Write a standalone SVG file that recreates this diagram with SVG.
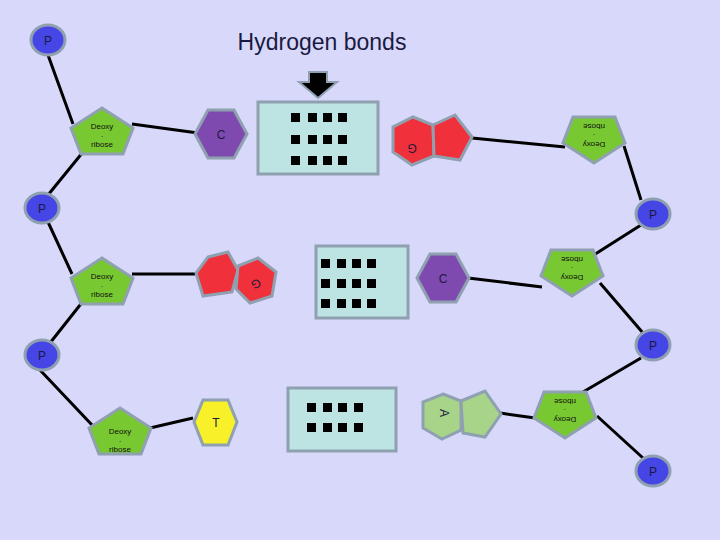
<svg xmlns="http://www.w3.org/2000/svg" width="720" height="540" viewBox="0 0 720 540">
<style>
.s{stroke:#8fa0b0;stroke-width:3}
.p{fill:#4646e6}
.d{fill:#78c832}
.ln{stroke:#000;stroke-width:3;fill:none}
.t{font-family:"Liberation Sans",Arial,sans-serif;fill:#1a1a40;text-anchor:middle}
.dt{font-family:"Liberation Sans",Arial,sans-serif;font-size:8px;fill:#111;text-anchor:middle}
.box{fill:#bde3e3}
.sq{fill:#000}
</style>
<defs>
<polygon id="pent" points="0,-24 31,-4 21,22 -21,22 -31,-4"/>
<polygon id="hex" points="-13,-24 13,-24 26,0 13,24 -13,24 -26,0"/>
</defs>
<rect width="720" height="540" fill="#d8d8fa"/>
<text class="t" x="322" y="50" font-size="23">Hydrogen bonds</text>
<g id="connectors">
<path class="ln" d="M48,55 L73,124 M83,152 L48,195 M48,222 L72,274 M84,300 L50,343 M40,370 L92,425"/>
<path class="ln" d="M624,146 L641,200 M641,225 L589,258 M600,283 L643,333 M641,358 L583,392 M597,416 L643,458"/>
<path class="ln" d="M132,124 L198,133 M472,138 L565,147 M132,274 L195,274 M468,278 L542,287 M150,428 L193,418 M500,413 L535,418"/>
</g>
<g id="arrow"><polygon points="309,72 327,72 327,82 337,82 318,98 299,82 309,82" fill="#000" stroke="#8fa0b0" stroke-width="2"/></g>
<g id="P1"><ellipse class="p s" cx="48" cy="40" rx="17" ry="15"/><text class="t" x="48" y="45" font-size="12">P</text></g>
<g id="P2"><ellipse class="p s" cx="42" cy="208" rx="17" ry="15"/><text class="t" x="42" y="213" font-size="12">P</text></g>
<g id="P3"><ellipse class="p s" cx="42" cy="355" rx="17" ry="15"/><text class="t" x="42" y="360" font-size="12">P</text></g>
<g id="P4"><ellipse class="p s" cx="653" cy="214" rx="17" ry="15"/><text class="t" x="653" y="219" font-size="12">P</text></g>
<g id="P5"><ellipse class="p s" cx="653" cy="345" rx="17" ry="15"/><text class="t" x="653" y="350" font-size="12">P</text></g>
<g id="P6"><ellipse class="p s" cx="653" cy="471" rx="17" ry="15"/><text class="t" x="653" y="476" font-size="12">P</text></g>
<g id="D1"><use href="#pent" class="d s" x="102" y="132"/><text class="dt" x="102" y="129">Deoxy</text><text class="dt" x="102" y="137">.</text><text class="dt" x="102" y="147">ribose</text></g>
<g id="D2"><use href="#pent" class="d s" x="102" y="282"/><text class="dt" x="102" y="279">Deoxy</text><text class="dt" x="102" y="287">.</text><text class="dt" x="102" y="297">ribose</text></g>
<g id="D3"><use href="#pent" class="d s" x="120" y="432"/><text class="dt" x="120" y="434">Deoxy</text><text class="dt" x="120" y="442">.</text><text class="dt" x="120" y="452">ribose</text></g>
<g id="D4" transform="translate(594,139) rotate(180)"><use href="#pent" class="d s"/><text class="dt" y="-3">Deoxy</text><text class="dt" y="5">.</text><text class="dt" y="15">ribose</text></g>
<g id="D5" transform="translate(572,272) rotate(180)"><use href="#pent" class="d s"/><text class="dt" y="-3">Deoxy</text><text class="dt" y="5">.</text><text class="dt" y="15">ribose</text></g>
<g id="D6" transform="translate(565,414) rotate(180)"><use href="#pent" class="d s"/><text class="dt" y="-3">Deoxy</text><text class="dt" y="5">.</text><text class="dt" y="15">ribose</text></g>
<g id="C1"><use href="#hex" class="s" fill="#7f4ab0" x="221" y="134"/><text class="t" x="221" y="139" font-size="12">C</text></g>
<g id="C2"><use href="#hex" class="s" fill="#7f4ab0" x="443" y="278"/><text class="t" x="443" y="283" font-size="12">C</text></g>
<g id="T1"><polygon class="s" fill="#f8f028" points="203,400 228,400 237,422 228,445 203,445 194,422"/><text class="t" x="216" y="427" font-size="12">T</text></g>
<g id="G1"><polygon class="s" fill="#f0303a" points="413,117 433,125 434,156 412,165 393,152 393,127"/><polygon class="s" fill="#f0303a" points="433,125 455,115 472,137 460,160 434,156"/><text class="t" x="412" y="136" font-size="12" transform="rotate(180 412 140)">G</text></g>
<g id="G2"><polygon class="s" fill="#f0303a" points="208,257 228,252 238,270 232,292 203,296 196,273"/><polygon class="s" fill="#f0303a" points="238,266 258,258 276,272 272,296 250,303 236,289"/><text class="t" x="255" y="284" font-size="12" transform="rotate(150 255 282)">G</text></g>
<g id="A1"><polygon class="s" fill="#a8d48a" points="443,394 461,401 461,430 442,439 423,428 423,402"/><polygon class="s" fill="#a8d48a" points="461,401 485,391 501,414 485,437 463,433"/><text class="t" x="440" y="413" font-size="12" transform="rotate(90 440 413)">A</text></g>
<g id="B1"><rect class="box s" x="258" y="102" width="120" height="72"/>
<g class="sq"><rect x="291" y="113" width="9" height="9"/><rect x="308" y="113" width="9" height="9"/><rect x="323" y="113" width="9" height="9"/><rect x="338" y="113" width="9" height="9"/>
<rect x="291" y="135" width="9" height="9"/><rect x="308" y="135" width="9" height="9"/><rect x="323" y="135" width="9" height="9"/><rect x="338" y="135" width="9" height="9"/>
<rect x="291" y="156" width="9" height="9"/><rect x="308" y="156" width="9" height="9"/><rect x="323" y="156" width="9" height="9"/><rect x="338" y="156" width="9" height="9"/></g></g>
<g id="B2"><rect class="box s" x="316" y="246" width="92" height="72"/>
<g class="sq"><rect x="321" y="259" width="9" height="9"/><rect x="337" y="259" width="9" height="9"/><rect x="352" y="259" width="9" height="9"/><rect x="367" y="259" width="9" height="9"/>
<rect x="321" y="279" width="9" height="9"/><rect x="337" y="279" width="9" height="9"/><rect x="352" y="279" width="9" height="9"/><rect x="367" y="279" width="9" height="9"/>
<rect x="321" y="299" width="9" height="9"/><rect x="337" y="299" width="9" height="9"/><rect x="352" y="299" width="9" height="9"/><rect x="367" y="299" width="9" height="9"/></g></g>
<g id="B3"><rect class="box s" x="288" y="388" width="108" height="63"/>
<g class="sq"><rect x="307" y="403" width="9" height="9"/><rect x="323" y="403" width="9" height="9"/><rect x="338" y="403" width="9" height="9"/><rect x="354" y="403" width="9" height="9"/>
<rect x="307" y="423" width="9" height="9"/><rect x="323" y="423" width="9" height="9"/><rect x="338" y="423" width="9" height="9"/><rect x="354" y="423" width="9" height="9"/></g></g>
</svg>
